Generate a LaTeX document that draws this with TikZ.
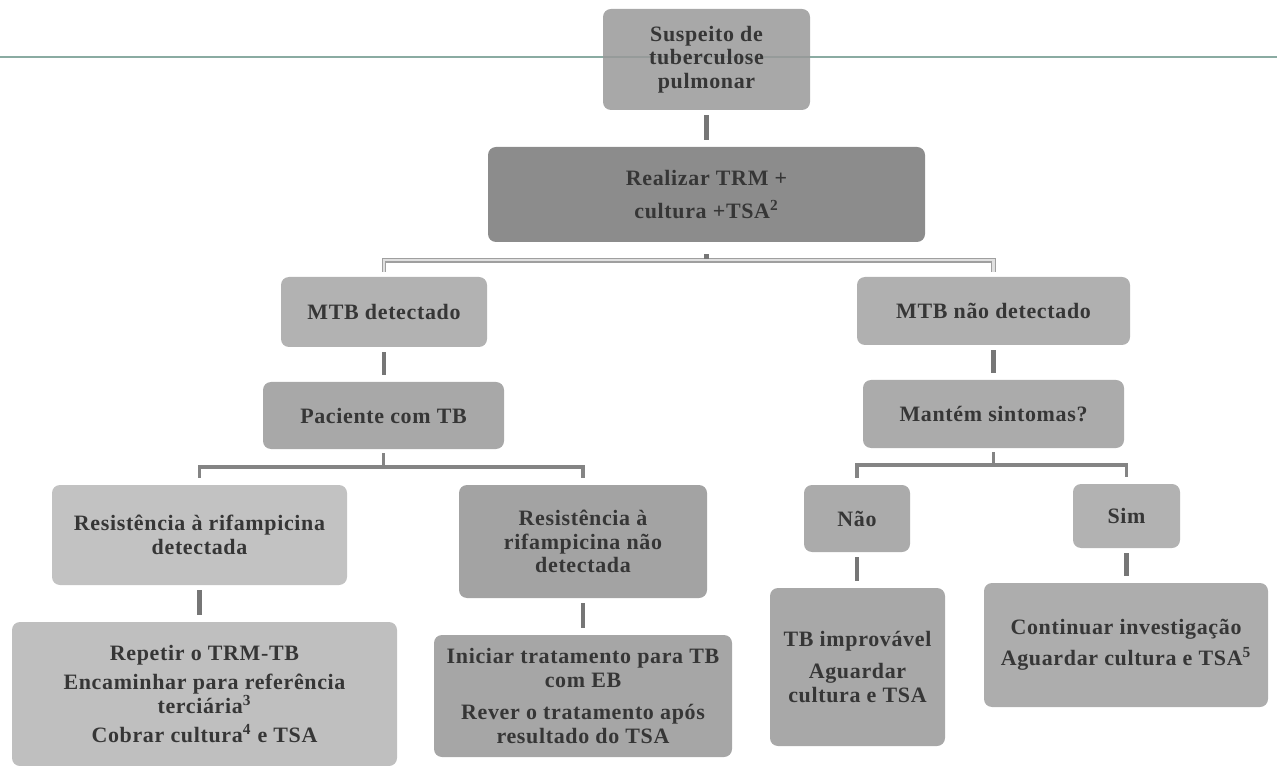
\documentclass[tikz,border=0pt]{standalone}
\usepackage{fontspec}
\setmainfont{Liberation Serif}[LetterSpace=3]
\definecolor{txt}{HTML}{363636}
\definecolor{rule}{HTML}{8AABA2}
\definecolor{conn}{HTML}{767676}
\newcommand\bx[6]{\node[box,fill=#6,minimum width={(#3-#1)*0.02cm},minimum height={(#4-#2)*0.02cm}] (#5) at ({(#1+#3)/2},{(#2+#4)/2})}
\begin{document}
\begin{tikzpicture}[x=0.02cm,y=-0.02cm,
  box/.style={rounded corners=0.16cm,inner sep=0pt,align=center,text=txt,
    font=\bfseries\fontsize{12.5}{13.5}\selectfont},
  vconn/.style={draw=conn,line width=2.6pt,shorten <=0.1cm,shorten >=0.13cm},
  stub/.style={draw=conn,line width=2.6pt},
  bconn/.style={draw=conn!90,line width=2.2pt},
  dconn/.style={draw=conn!70,double=black!12,line width=0.7pt,double distance=1.3pt}]
\useasboundingbox (0,0) rectangle (1277,766);
\draw[rule,line width=1pt] (0,57) coordinate (rl) -- (1277,57) coordinate (rr);
\bx{603}{9}{810}{110}{top}{black!40}[fill opacity=0.85,text opacity=1]{Suspeito de\\tuberculose\\pulmonar};
\bx{488}{147}{925}{242}{real}{black!45}{Realizar TRM +\\[5pt]cultura +TSA\textsuperscript{2}};
\bx{281}{277}{487}{347}{mtbd}{black!30}{MTB detectado};
\bx{857}{277}{1130}{345}{mtbn}{black!31}{MTB não detectado};
\bx{263}{382}{504}{449}{pac}{black!34}{Paciente com TB};
\bx{863}{380}{1124}{448}{mant}{black!33}{Mantém sintomas?};
\bx{52}{485}{347}{585}{resd}{black!24}{Resistência à rifampicina\\detectada};
\bx{459}{485}{707}{598}{resn}{black!36}{Resistência à\\rifampicina não\\detectada};
\bx{804}{485}{910}{552}{nao}{black!33}{Não};
\bx{1073}{484}{1180}{548}{sim}{black!30}{Sim};
\bx{12}{622}{397}{766}{rep}{black!25}{Repetir o TRM-TB\\[3pt]Encaminhar para referência\\terciária\textsuperscript{3}\\[3pt]Cobrar cultura\textsuperscript{4} e TSA};
\bx{434}{635}{732}{757}{ini}{black!35}{Iniciar tratamento para TB\\com EB\\[5pt]Rever o tratamento após\\resultado do TSA};
\bx{770}{588}{945}{746}{tbi}{black!34}{TB improvável\\[5pt]Aguardar\\cultura e TSA};
\bx{984}{583}{1268}{707}{cont}{black!32}{Continuar investigação\\[4pt]Aguardar cultura e TSA\textsuperscript{5}};
% connectors
\draw[vconn] (top.south) -- (top.south |- real.north);
\draw[dconn] ([yshift=0.1cm]mtbd.north) |- ([yshift=-0.36cm]real.south) -| ([yshift=0.1cm]mtbn.north);
\draw[stub] ([yshift=-0.24cm]real.south) -- ([yshift=-0.34cm]real.south);
\draw[vconn] (mtbd.south) -- (mtbd.south |- pac.north);
\draw[vconn] (mtbn.south) -- (mtbn.south |- mant.north);
\draw[bconn] ([yshift=-0.08cm]pac.south) -- ([yshift=-0.36cm]pac.south) -| ([yshift=0.14cm]resd.north);
\draw[bconn] ([yshift=-0.36cm]pac.south) -| ([yshift=0.14cm]resn.north);
\draw[bconn] ([yshift=-0.08cm]mant.south) -- ([yshift=-0.34cm]mant.south) -| ([yshift=0.14cm]nao.north);
\draw[bconn] ([yshift=-0.34cm]mant.south) -| ([yshift=0.14cm]sim.north);
\draw[vconn] (resd.south) -- (resd.south |- rep.north);
\draw[vconn] (resn.south) -- (resn.south |- ini.north);
\draw[vconn] (nao.south) -- (nao.south |- tbi.north);
\draw[vconn] (sim.south) -- (sim.south |- cont.north);
\end{tikzpicture}
\end{document}
